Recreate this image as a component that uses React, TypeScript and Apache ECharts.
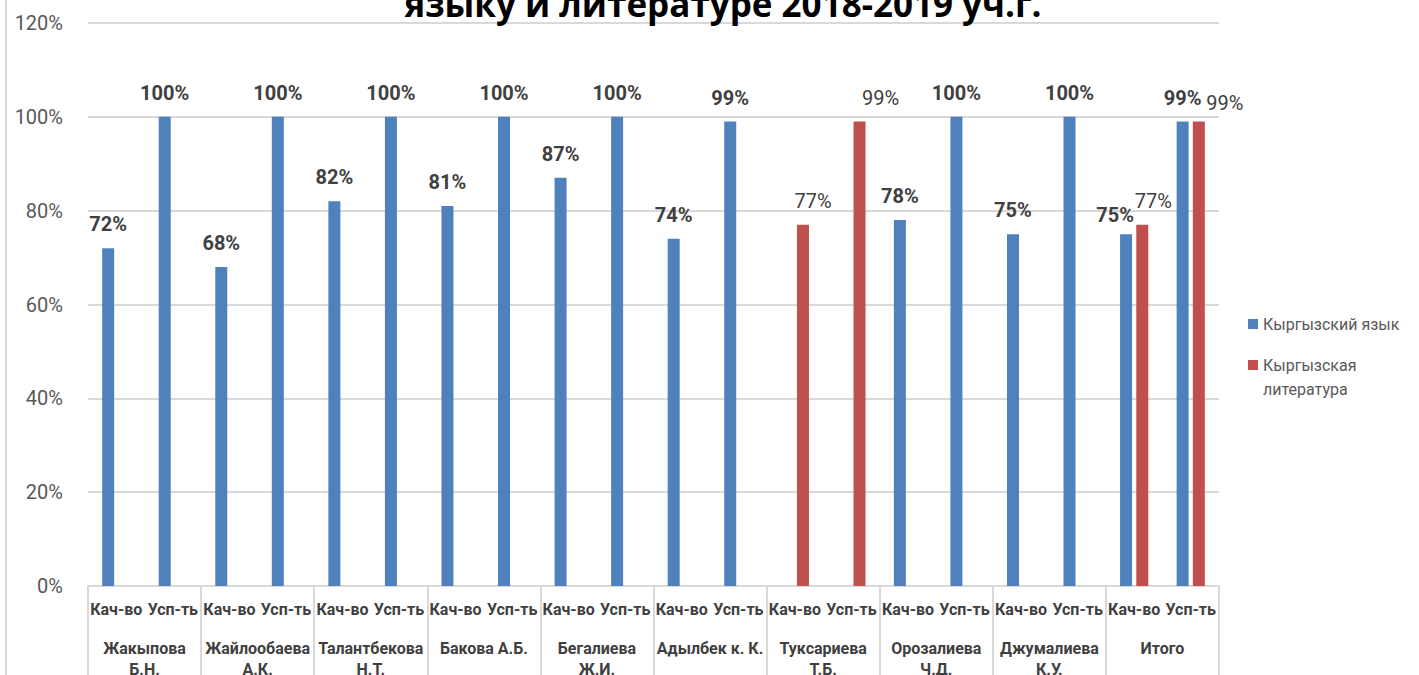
import React, { useEffect, useRef } from "react";
import * as echarts from "echarts";

const titleText = "языку и литературе 2018-2019 уч.г.";
const metricLabels = ["Кач-во", "Усп-ть"];
const teachers = [
  "Жакыпова\nБ.Н.",
  "Жайлообаева\nА.К.",
  "Талантбекова\nН.Т.",
  "Бакова А.Б.",
  "Бегалиева\nЖ.И.",
  "Адылбек к. К.",
  "Туксариева\nТ.Б.",
  "Орозалиева\nЧ.Д.",
  "Джумалиева\nК.У.",
  "Итого",
];
const seriesNames = ["Кыргызский язык", "Кыргызская литература"];
const languageValues = [72, 100, 68, 100, 82, 100, 81, 100, 87, 100, 74, 99, null, null, 78, 100, 75, 100, 75, 99];
const literatureValues = [null, null, null, null, null, null, null, null, null, null, null, null, 77, 99, null, null, null, null, 77, 99];
const yTicks = [0, 20, 40, 60, 80, 100, 120];

// label nudges (Excel moved some labels aside to avoid overlaps)
const languageLabelOffsets: Record<number, [number, number]> = { 18: [-11, 5] };
const literatureLabelOffsets: Record<number, [number, number]> = { 12: [10, 0], 13: [21, 0], 18: [11, 0], 19: [26, 5] };

const FONT = "Roboto";

function buildData(values: (number | null)[], offsets: Record<number, [number, number]>) {
  return values.map((v, i) => {
    if (v === null) return null;
    const off = offsets[i];
    return off ? { value: v, label: { offset: off } } : v;
  });
}

export default function App() {
  const ref = useRef<HTMLDivElement>(null);
  useEffect(() => {
    if (!ref.current) return;
    const chart = echarts.init(ref.current, undefined, { renderer: "svg" });
    const categories = teachers.flatMap(() => metricLabels);
    const [litFirst, litSecond] = seriesNames[1].split(" ");
    const option: any = {
      animation: false,
      backgroundColor: "#ffffff",
      textStyle: { fontFamily: FONT },
      title: {
        text: titleText,
        left: 718,
        textAlign: "center",
        top: -19,
        textStyle: { fontFamily: "Open Sans", fontSize: 35, fontWeight: "bold", color: "#000000" },
      },
      graphic: [
        {
          type: "line",
          shape: { x1: 6, y1: 0, x2: 6, y2: 675 },
          style: { stroke: "#d9d9d9", lineWidth: 2 },
        },
        {
          type: "text",
          left: 1263,
          top: 381,
          style: { text: litSecond, fontFamily: FONT, fontSize: 16, fill: "#595959" },
        },
      ],
      legend: {
        orient: "vertical",
        left: 1248,
        top: 316,
        padding: 0,
        itemWidth: 10,
        itemHeight: 10,
        itemGap: 25,
        icon: "rect",
        data: seriesNames,
        formatter: (n: string) => (n === seriesNames[1] ? litFirst : n),
        textStyle: { fontFamily: FONT, fontSize: 16, color: "#595959" },
      },
      grid: {
        left: 88,
        width: 1131,
        top: 23,
        height: 563,
        containLabel: false,
        outerBoundsMode: "none",
      },
      xAxis: [
        {
          type: "category",
          data: categories,
          position: "bottom",
          axisLine: { show: false },
          axisTick: { show: false },
          axisLabel: { interval: 0, margin: 15, fontFamily: FONT, fontSize: 16, fontWeight: "bold", color: "#404040" },
        },
        {
          type: "category",
          data: teachers,
          position: "bottom",
          axisLine: { show: true, lineStyle: { color: "#d9d9d9", width: 2 } },
          axisTick: { show: true, interval: 0, length: 100, lineStyle: { color: "#d9d9d9", width: 2 } },
          axisLabel: { interval: 0, margin: 52, fontFamily: FONT, fontSize: 16, fontWeight: "bold", color: "#404040", lineHeight: 21 },
        },
      ],
      yAxis: {
        type: "value",
        min: 0,
        max: yTicks[yTicks.length - 1],
        interval: yTicks[1] - yTicks[0],
        axisLine: { show: false },
        axisTick: { show: false },
        axisLabel: { formatter: "{value}%", margin: 25, fontFamily: FONT, fontSize: 20, color: "#595959" },
        splitLine: { lineStyle: { color: "#d9d9d9", width: 2 } },
      },
      series: [
        {
          name: seriesNames[0],
          type: "bar",
          xAxisIndex: 0,
          data: buildData(languageValues, languageLabelOffsets),
          barWidth: 12,
          barGap: "35%",
          itemStyle: { color: "#4f81bd" },
          label: { show: true, position: "top", distance: 14, formatter: "{c}%", fontFamily: FONT, fontSize: 20, fontWeight: "bold", color: "#404040" },
        },
        {
          name: seriesNames[1],
          type: "bar",
          xAxisIndex: 0,
          data: buildData(literatureValues, literatureLabelOffsets),
          barWidth: 12,
          itemStyle: { color: "#c0504d" },
          label: { show: true, position: "top", distance: 14, formatter: "{c}%", fontFamily: FONT, fontSize: 20, fontWeight: "normal", color: "#404040" },
        },
      ],
    };
    chart.setOption(option);
    return () => chart.dispose();
  }, []);
  return <div ref={ref} style={{ position: "fixed", left: 0, top: 0, width: 1419, height: 675, background: "#fff" }} />;
}
